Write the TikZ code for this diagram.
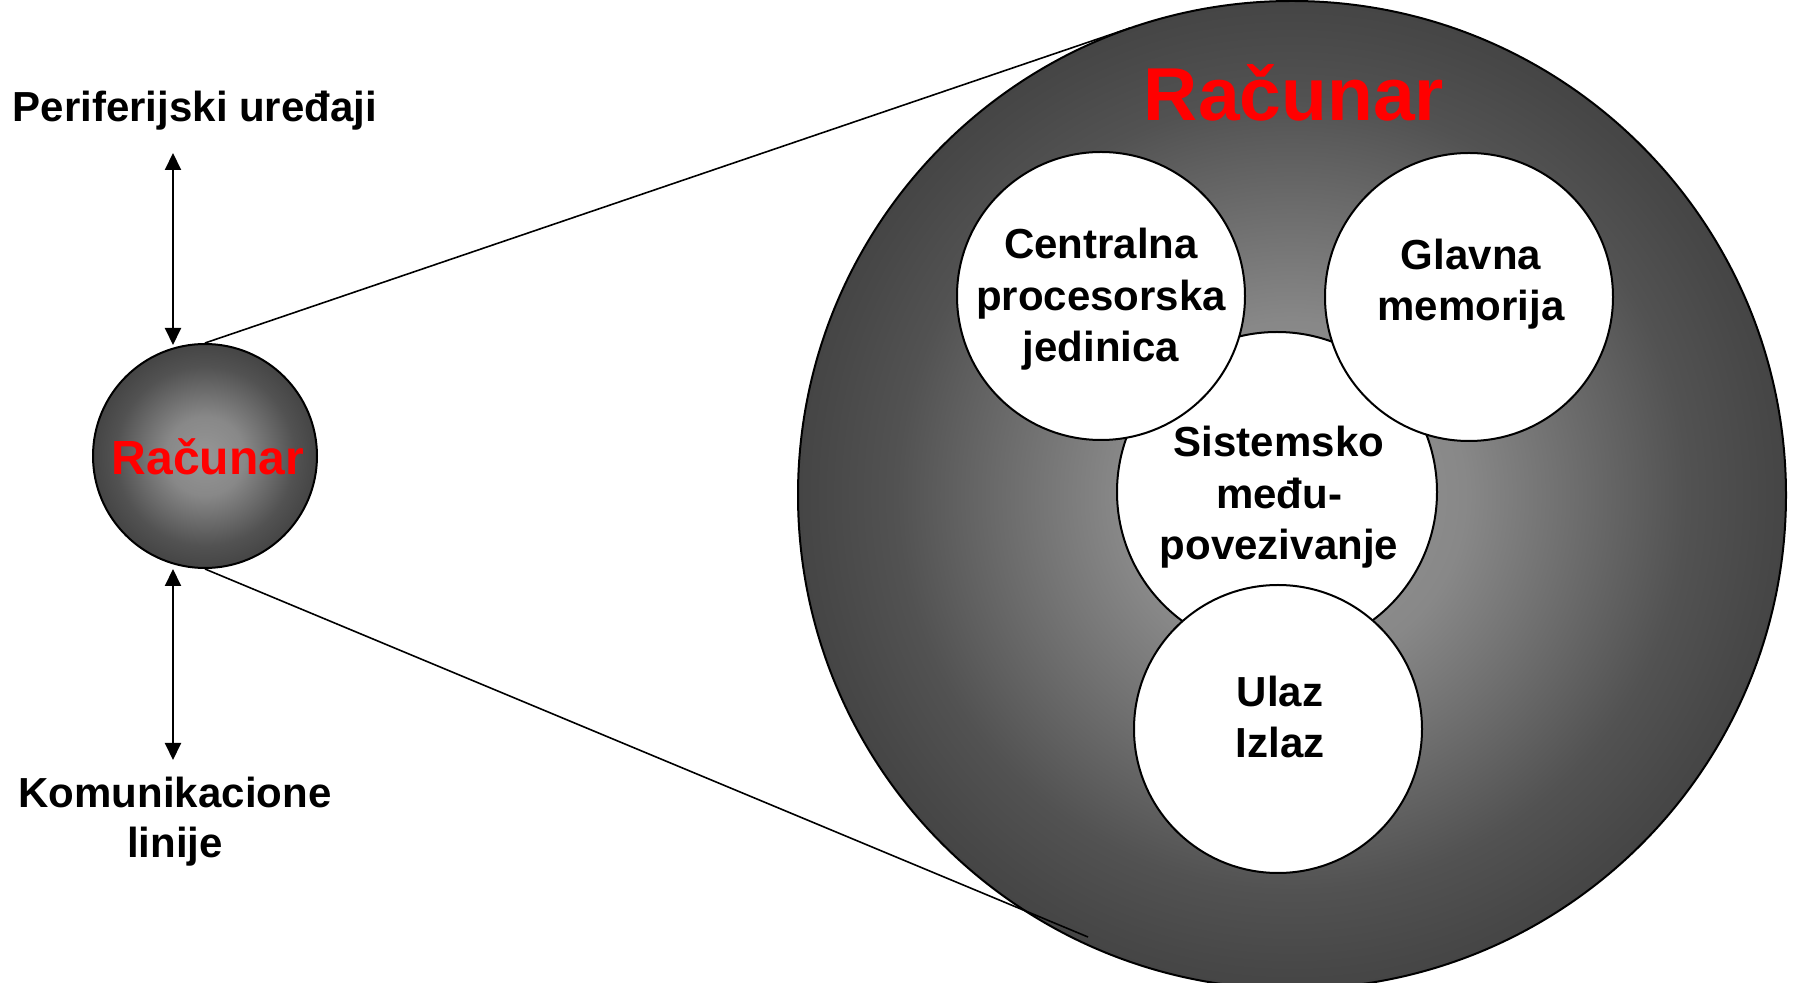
\documentclass[tikz,border=0pt]{standalone}
\usepackage{fontspec}
\setmainfont{Liberation Sans}
\usetikzlibrary{arrows.meta}

% grey sphere-like radial shading: light centre, dark rim
\definecolor{sphA}{HTML}{969696}
\definecolor{sphB}{HTML}{888888}
\definecolor{sphC}{HTML}{6A6A6A}
\definecolor{sphD}{HTML}{525252}
\definecolor{sphE}{HTML}{484848}
\definecolor{sphF}{HTML}{454545}
\pgfdeclareradialshading{sphere}{\pgfpoint{0bp}{0bp}}{%
  color(0bp)=(sphA); color(8.75bp)=(sphB); color(15bp)=(sphC);
  color(20bp)=(sphD); color(23.75bp)=(sphE); color(25bp)=(sphF);
  color(50bp)=(sphF)}

\tikzset{
  ball/.style={circle, draw=black, line width=1pt, shading=sphere, inner sep=0pt},
  part/.style={circle, draw=black, line width=1pt, fill=white, inner sep=0pt, minimum size=144pt},
  % multi-line labels are anchored at the baseline of their last line
  parttext/.style={anchor=base, align=center, inner sep=0pt,
    font=\bfseries\fontsize{21}{25.75}\selectfont},
  sidetext/.style={anchor=base, align=center, inner sep=0pt,
    font=\bfseries\fontsize{21}{25}\selectfont},
  title/.style={anchor=base, inner sep=0pt, text=red},
  link/.style={line width=0.8pt},
  both/.style={line width=1pt,
    {Triangle[width=8pt,length=8.5pt]}-{Triangle[width=8pt,length=8.5pt]}}
}

\begin{document}
\begin{tikzpicture}[x=0.5pt,y=-0.5pt]
\useasboundingbox (0,0) rectangle (1796,983);

% the computer as a whole (small) and enlarged
\node[ball, minimum size=494pt] (big) at (1292,495) {};
\node[ball, minimum size=112pt] (small) at (205,456) {};

% lines of the magnification
\coordinate (bigTop) at (1130,28);
\coordinate (bigBot) at (1088,937);
\draw[link] (small.north) -- (bigTop);
\draw[link] (small.south) -- (bigBot);

% inner parts
\node[part, minimum size=160pt] (bus) at (1277,492) {};
\node[part] (cpu) at (1101,296) {};
\node[part] (mem) at (1469,297) {};
\node[part] (io)  at (1278,729) {};

\node[parttext] (cpuText) at (1101,362) {Centralna\\procesorska\\jedinica};
\node[parttext] (memText) at (1471,321) {Glavna\\memorija};
\node[parttext] (busText) at (1279,560) {Sistemsko\\među-\\povezivanje};
\node[parttext] (ioText)  at (1280,758) {Ulaz\\Izlaz};

% titles
\node[title, font=\bfseries\fontsize{37.5}{37.5}\selectfont] (bigTitle) at (1294,121) {Računar};
\node[title, font=\bfseries\fontsize{24}{24}\selectfont] (smallTitle) at (208,475) {Računar};

% surroundings
\node[sidetext] (periph) at (195,122) {Periferijski uređaji};
\node[sidetext] (comm) at (175,858) {Komunikacione\\linije};

\coordinate (pEnd) at (173,153);
\coordinate (sTop) at (173,345);
\coordinate (sBot) at (173,569);
\coordinate (cEnd) at (173,760);
\draw[both] (pEnd) -- (sTop);
\draw[both] (sBot) -- (cEnd);
\end{tikzpicture}
\end{document}
